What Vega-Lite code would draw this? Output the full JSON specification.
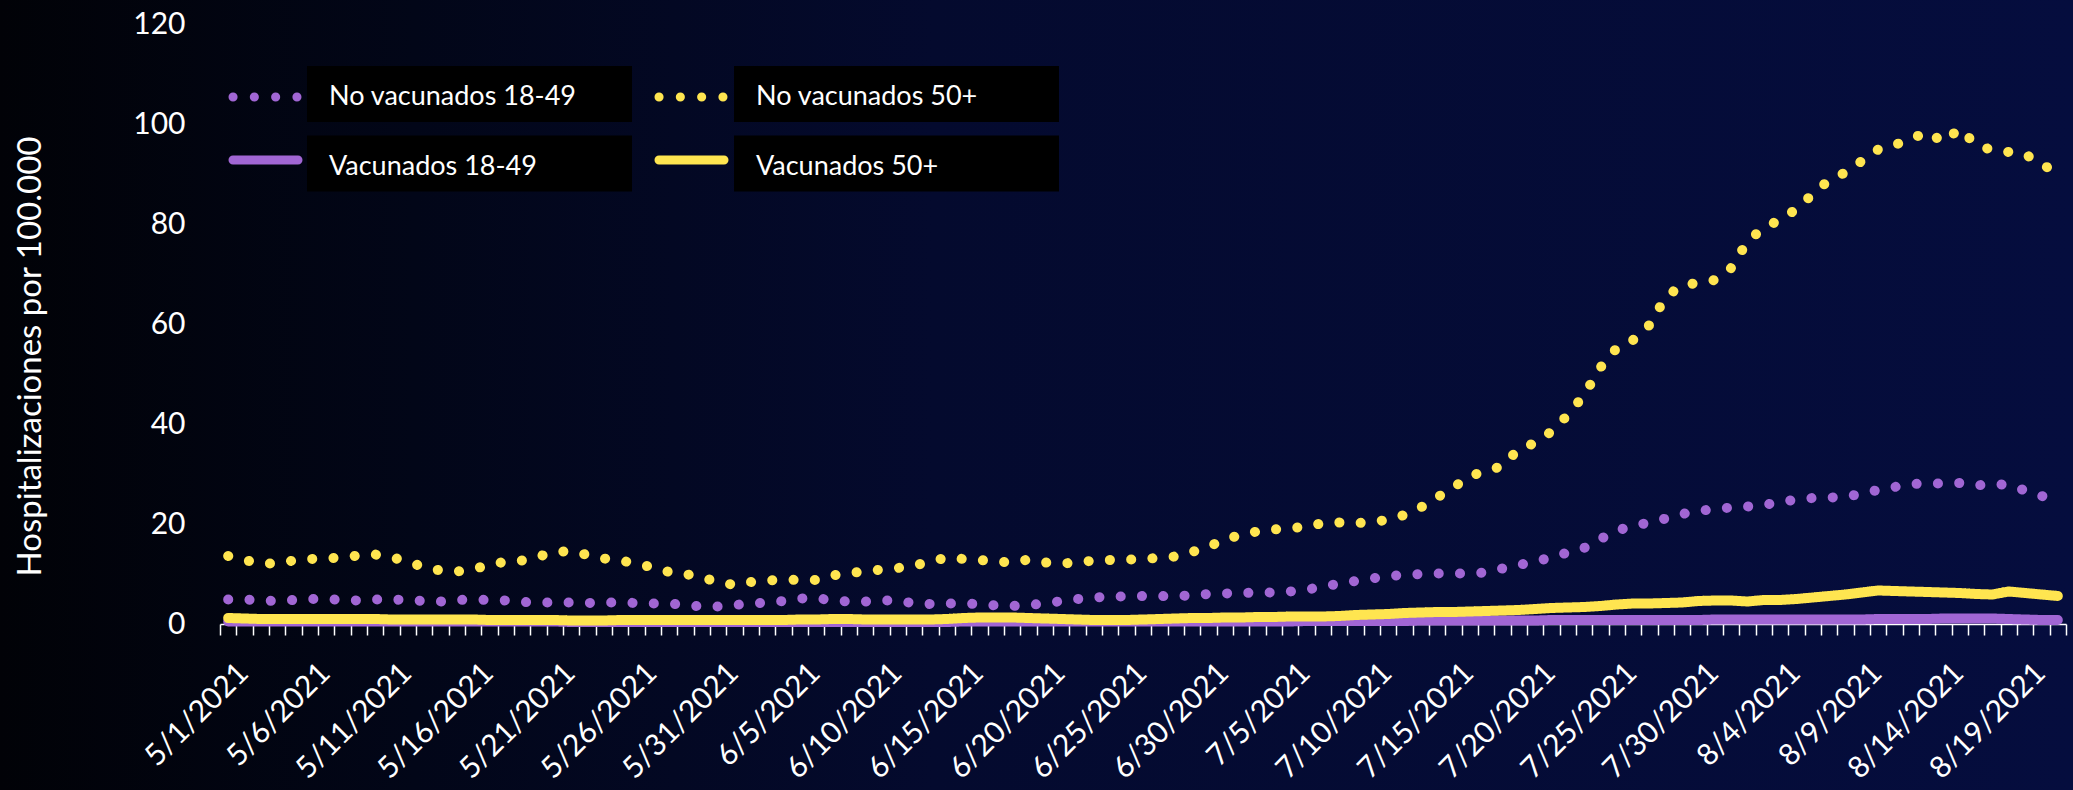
{
"$schema": "https://vega.github.io/schema/vega-lite/v6.json",
"width": 2073, "height": 790, "autosize": "none", "padding": 0,
"background": "#010207",
"config": {
 "font": "Lato",
 "view": {"stroke": null, "fill": {"gradient": "linear", "x1": 0, "y1": 0, "x2": 1, "y2": 0, "stops": [{"offset": 0, "color": "#010207"}, {"offset": 0.2, "color": "#020618"}, {"offset": 0.45, "color": "#040a2e"}, {"offset": 1, "color": "#050d3e"}]}}
},
"data": {"values": [
{"fecha":"5/1/2021","No vacunados 18-49":4.9,"No vacunados 50+":13.6,"Vacunados 18-49":0.5,"Vacunados 50+":1.2},
{"fecha":"5/2/2021","No vacunados 18-49":4.9,"No vacunados 50+":12.8,"Vacunados 18-49":0.5,"Vacunados 50+":1.1},
{"fecha":"5/3/2021","No vacunados 18-49":4.7,"No vacunados 50+":12.1,"Vacunados 18-49":0.5,"Vacunados 50+":1.0},
{"fecha":"5/4/2021","No vacunados 18-49":4.6,"No vacunados 50+":12.1,"Vacunados 18-49":0.5,"Vacunados 50+":1.0},
{"fecha":"5/5/2021","No vacunados 18-49":4.8,"No vacunados 50+":12.7,"Vacunados 18-49":0.5,"Vacunados 50+":1.0},
{"fecha":"5/6/2021","No vacunados 18-49":5.0,"No vacunados 50+":13.0,"Vacunados 18-49":0.5,"Vacunados 50+":1.0},
{"fecha":"5/7/2021","No vacunados 18-49":5.0,"No vacunados 50+":13.1,"Vacunados 18-49":0.5,"Vacunados 50+":1.0},
{"fecha":"5/8/2021","No vacunados 18-49":4.8,"No vacunados 50+":13.3,"Vacunados 18-49":0.5,"Vacunados 50+":1.0},
{"fecha":"5/9/2021","No vacunados 18-49":4.7,"No vacunados 50+":13.7,"Vacunados 18-49":0.5,"Vacunados 50+":1.0},
{"fecha":"5/10/2021","No vacunados 18-49":4.9,"No vacunados 50+":13.9,"Vacunados 18-49":0.5,"Vacunados 50+":1.0},
{"fecha":"5/11/2021","No vacunados 18-49":4.9,"No vacunados 50+":13.4,"Vacunados 18-49":0.5,"Vacunados 50+":0.9},
{"fecha":"5/12/2021","No vacunados 18-49":4.8,"No vacunados 50+":12.4,"Vacunados 18-49":0.5,"Vacunados 50+":0.9},
{"fecha":"5/13/2021","No vacunados 18-49":4.6,"No vacunados 50+":11.4,"Vacunados 18-49":0.5,"Vacunados 50+":0.9},
{"fecha":"5/14/2021","No vacunados 18-49":4.5,"No vacunados 50+":10.7,"Vacunados 18-49":0.5,"Vacunados 50+":0.9},
{"fecha":"5/15/2021","No vacunados 18-49":4.8,"No vacunados 50+":10.5,"Vacunados 18-49":0.5,"Vacunados 50+":0.9},
{"fecha":"5/16/2021","No vacunados 18-49":4.9,"No vacunados 50+":11.0,"Vacunados 18-49":0.5,"Vacunados 50+":0.9},
{"fecha":"5/17/2021","No vacunados 18-49":4.8,"No vacunados 50+":11.8,"Vacunados 18-49":0.5,"Vacunados 50+":0.8},
{"fecha":"5/18/2021","No vacunados 18-49":4.7,"No vacunados 50+":12.5,"Vacunados 18-49":0.5,"Vacunados 50+":0.8},
{"fecha":"5/19/2021","No vacunados 18-49":4.4,"No vacunados 50+":12.7,"Vacunados 18-49":0.5,"Vacunados 50+":0.8},
{"fecha":"5/20/2021","No vacunados 18-49":4.3,"No vacunados 50+":13.5,"Vacunados 18-49":0.5,"Vacunados 50+":0.8},
{"fecha":"5/21/2021","No vacunados 18-49":4.3,"No vacunados 50+":14.4,"Vacunados 18-49":0.5,"Vacunados 50+":0.8},
{"fecha":"5/22/2021","No vacunados 18-49":4.3,"No vacunados 50+":14.6,"Vacunados 18-49":0.4,"Vacunados 50+":0.7},
{"fecha":"5/23/2021","No vacunados 18-49":4.2,"No vacunados 50+":13.8,"Vacunados 18-49":0.4,"Vacunados 50+":0.7},
{"fecha":"5/24/2021","No vacunados 18-49":4.3,"No vacunados 50+":13.1,"Vacunados 18-49":0.4,"Vacunados 50+":0.7},
{"fecha":"5/25/2021","No vacunados 18-49":4.3,"No vacunados 50+":12.7,"Vacunados 18-49":0.4,"Vacunados 50+":0.8},
{"fecha":"5/26/2021","No vacunados 18-49":4.2,"No vacunados 50+":12.1,"Vacunados 18-49":0.4,"Vacunados 50+":0.8},
{"fecha":"5/27/2021","No vacunados 18-49":4.1,"No vacunados 50+":11.3,"Vacunados 18-49":0.4,"Vacunados 50+":0.8},
{"fecha":"5/28/2021","No vacunados 18-49":4.1,"No vacunados 50+":10.4,"Vacunados 18-49":0.4,"Vacunados 50+":0.8},
{"fecha":"5/29/2021","No vacunados 18-49":3.8,"No vacunados 50+":10.0,"Vacunados 18-49":0.4,"Vacunados 50+":0.8},
{"fecha":"5/30/2021","No vacunados 18-49":3.5,"No vacunados 50+":9.3,"Vacunados 18-49":0.4,"Vacunados 50+":0.8},
{"fecha":"5/31/2021","No vacunados 18-49":3.5,"No vacunados 50+":8.4,"Vacunados 18-49":0.4,"Vacunados 50+":0.8},
{"fecha":"6/1/2021","No vacunados 18-49":3.8,"No vacunados 50+":7.8,"Vacunados 18-49":0.4,"Vacunados 50+":0.8},
{"fecha":"6/2/2021","No vacunados 18-49":4.1,"No vacunados 50+":8.4,"Vacunados 18-49":0.4,"Vacunados 50+":0.8},
{"fecha":"6/3/2021","No vacunados 18-49":4.3,"No vacunados 50+":8.7,"Vacunados 18-49":0.4,"Vacunados 50+":0.8},
{"fecha":"6/4/2021","No vacunados 18-49":4.6,"No vacunados 50+":8.9,"Vacunados 18-49":0.4,"Vacunados 50+":0.8},
{"fecha":"6/5/2021","No vacunados 18-49":5.1,"No vacunados 50+":8.8,"Vacunados 18-49":0.4,"Vacunados 50+":0.9},
{"fecha":"6/6/2021","No vacunados 18-49":5.2,"No vacunados 50+":8.8,"Vacunados 18-49":0.4,"Vacunados 50+":0.9},
{"fecha":"6/7/2021","No vacunados 18-49":4.7,"No vacunados 50+":9.7,"Vacunados 18-49":0.4,"Vacunados 50+":1.0},
{"fecha":"6/8/2021","No vacunados 18-49":4.5,"No vacunados 50+":10.2,"Vacunados 18-49":0.4,"Vacunados 50+":1.0},
{"fecha":"6/9/2021","No vacunados 18-49":4.5,"No vacunados 50+":10.5,"Vacunados 18-49":0.4,"Vacunados 50+":0.9},
{"fecha":"6/10/2021","No vacunados 18-49":4.7,"No vacunados 50+":10.9,"Vacunados 18-49":0.4,"Vacunados 50+":0.9},
{"fecha":"6/11/2021","No vacunados 18-49":4.7,"No vacunados 50+":11.2,"Vacunados 18-49":0.4,"Vacunados 50+":0.9},
{"fecha":"6/12/2021","No vacunados 18-49":4.1,"No vacunados 50+":11.7,"Vacunados 18-49":0.4,"Vacunados 50+":0.9},
{"fecha":"6/13/2021","No vacunados 18-49":4.0,"No vacunados 50+":12.5,"Vacunados 18-49":0.4,"Vacunados 50+":0.9},
{"fecha":"6/14/2021","No vacunados 18-49":4.1,"No vacunados 50+":13.3,"Vacunados 18-49":0.4,"Vacunados 50+":1.0},
{"fecha":"6/15/2021","No vacunados 18-49":4.1,"No vacunados 50+":13.0,"Vacunados 18-49":0.5,"Vacunados 50+":1.2},
{"fecha":"6/16/2021","No vacunados 18-49":4.0,"No vacunados 50+":12.8,"Vacunados 18-49":0.5,"Vacunados 50+":1.3},
{"fecha":"6/17/2021","No vacunados 18-49":3.7,"No vacunados 50+":12.5,"Vacunados 18-49":0.5,"Vacunados 50+":1.3},
{"fecha":"6/18/2021","No vacunados 18-49":3.6,"No vacunados 50+":12.3,"Vacunados 18-49":0.5,"Vacunados 50+":1.3},
{"fecha":"6/19/2021","No vacunados 18-49":3.8,"No vacunados 50+":12.9,"Vacunados 18-49":0.5,"Vacunados 50+":1.2},
{"fecha":"6/20/2021","No vacunados 18-49":4.1,"No vacunados 50+":12.3,"Vacunados 18-49":0.5,"Vacunados 50+":1.1},
{"fecha":"6/21/2021","No vacunados 18-49":4.6,"No vacunados 50+":12.1,"Vacunados 18-49":0.5,"Vacunados 50+":1.0},
{"fecha":"6/22/2021","No vacunados 18-49":5.0,"No vacunados 50+":12.3,"Vacunados 18-49":0.5,"Vacunados 50+":0.9},
{"fecha":"6/23/2021","No vacunados 18-49":5.3,"No vacunados 50+":12.7,"Vacunados 18-49":0.5,"Vacunados 50+":0.8},
{"fecha":"6/24/2021","No vacunados 18-49":5.5,"No vacunados 50+":12.8,"Vacunados 18-49":0.5,"Vacunados 50+":0.8},
{"fecha":"6/25/2021","No vacunados 18-49":5.5,"No vacunados 50+":12.9,"Vacunados 18-49":0.5,"Vacunados 50+":0.8},
{"fecha":"6/26/2021","No vacunados 18-49":5.6,"No vacunados 50+":12.9,"Vacunados 18-49":0.5,"Vacunados 50+":0.9},
{"fecha":"6/27/2021","No vacunados 18-49":5.6,"No vacunados 50+":13.3,"Vacunados 18-49":0.5,"Vacunados 50+":1.0},
{"fecha":"6/28/2021","No vacunados 18-49":5.5,"No vacunados 50+":13.5,"Vacunados 18-49":0.5,"Vacunados 50+":1.1},
{"fecha":"6/29/2021","No vacunados 18-49":5.8,"No vacunados 50+":14.4,"Vacunados 18-49":0.5,"Vacunados 50+":1.2},
{"fecha":"6/30/2021","No vacunados 18-49":6.0,"No vacunados 50+":15.5,"Vacunados 18-49":0.5,"Vacunados 50+":1.2},
{"fecha":"7/1/2021","No vacunados 18-49":6.1,"No vacunados 50+":16.8,"Vacunados 18-49":0.5,"Vacunados 50+":1.3},
{"fecha":"7/2/2021","No vacunados 18-49":6.2,"No vacunados 50+":17.9,"Vacunados 18-49":0.5,"Vacunados 50+":1.3},
{"fecha":"7/3/2021","No vacunados 18-49":6.3,"No vacunados 50+":18.5,"Vacunados 18-49":0.5,"Vacunados 50+":1.4},
{"fecha":"7/4/2021","No vacunados 18-49":6.3,"No vacunados 50+":18.9,"Vacunados 18-49":0.5,"Vacunados 50+":1.4},
{"fecha":"7/5/2021","No vacunados 18-49":6.5,"No vacunados 50+":19.2,"Vacunados 18-49":0.5,"Vacunados 50+":1.5},
{"fecha":"7/6/2021","No vacunados 18-49":6.9,"No vacunados 50+":19.4,"Vacunados 18-49":0.6,"Vacunados 50+":1.5},
{"fecha":"7/7/2021","No vacunados 18-49":7.4,"No vacunados 50+":20.2,"Vacunados 18-49":0.6,"Vacunados 50+":1.5},
{"fecha":"7/8/2021","No vacunados 18-49":8.1,"No vacunados 50+":20.3,"Vacunados 18-49":0.6,"Vacunados 50+":1.6},
{"fecha":"7/9/2021","No vacunados 18-49":8.6,"No vacunados 50+":20.2,"Vacunados 18-49":0.6,"Vacunados 50+":1.8},
{"fecha":"7/10/2021","No vacunados 18-49":9.1,"No vacunados 50+":20.3,"Vacunados 18-49":0.6,"Vacunados 50+":1.9},
{"fecha":"7/11/2021","No vacunados 18-49":9.6,"No vacunados 50+":20.9,"Vacunados 18-49":0.6,"Vacunados 50+":2.0},
{"fecha":"7/12/2021","No vacunados 18-49":9.8,"No vacunados 50+":21.8,"Vacunados 18-49":0.6,"Vacunados 50+":2.2},
{"fecha":"7/13/2021","No vacunados 18-49":10.0,"No vacunados 50+":23.3,"Vacunados 18-49":0.7,"Vacunados 50+":2.3},
{"fecha":"7/14/2021","No vacunados 18-49":10.1,"No vacunados 50+":25.3,"Vacunados 18-49":0.7,"Vacunados 50+":2.4},
{"fecha":"7/15/2021","No vacunados 18-49":10.1,"No vacunados 50+":27.3,"Vacunados 18-49":0.7,"Vacunados 50+":2.4},
{"fecha":"7/16/2021","No vacunados 18-49":10.1,"No vacunados 50+":29.6,"Vacunados 18-49":0.7,"Vacunados 50+":2.5},
{"fecha":"7/17/2021","No vacunados 18-49":10.3,"No vacunados 50+":30.6,"Vacunados 18-49":0.7,"Vacunados 50+":2.6},
{"fecha":"7/18/2021","No vacunados 18-49":11.1,"No vacunados 50+":31.6,"Vacunados 18-49":0.7,"Vacunados 50+":2.7},
{"fecha":"7/19/2021","No vacunados 18-49":11.8,"No vacunados 50+":35.0,"Vacunados 18-49":0.7,"Vacunados 50+":2.8},
{"fecha":"7/20/2021","No vacunados 18-49":12.5,"No vacunados 50+":36.2,"Vacunados 18-49":0.7,"Vacunados 50+":3.0},
{"fecha":"7/21/2021","No vacunados 18-49":13.3,"No vacunados 50+":38.5,"Vacunados 18-49":0.8,"Vacunados 50+":3.2},
{"fecha":"7/22/2021","No vacunados 18-49":14.3,"No vacunados 50+":41.8,"Vacunados 18-49":0.8,"Vacunados 50+":3.3},
{"fecha":"7/23/2021","No vacunados 18-49":15.2,"No vacunados 50+":45.8,"Vacunados 18-49":0.8,"Vacunados 50+":3.4},
{"fecha":"7/24/2021","No vacunados 18-49":17.0,"No vacunados 50+":51.3,"Vacunados 18-49":0.8,"Vacunados 50+":3.6},
{"fecha":"7/25/2021","No vacunados 18-49":18.7,"No vacunados 50+":55.2,"Vacunados 18-49":0.8,"Vacunados 50+":3.9},
{"fecha":"7/26/2021","No vacunados 18-49":19.6,"No vacunados 50+":56.8,"Vacunados 18-49":0.8,"Vacunados 50+":4.1},
{"fecha":"7/27/2021","No vacunados 18-49":20.3,"No vacunados 50+":59.8,"Vacunados 18-49":0.8,"Vacunados 50+":4.1},
{"fecha":"7/28/2021","No vacunados 18-49":21.1,"No vacunados 50+":65.4,"Vacunados 18-49":0.8,"Vacunados 50+":4.2},
{"fecha":"7/29/2021","No vacunados 18-49":22.0,"No vacunados 50+":67.8,"Vacunados 18-49":0.8,"Vacunados 50+":4.3},
{"fecha":"7/30/2021","No vacunados 18-49":22.6,"No vacunados 50+":68.2,"Vacunados 18-49":0.8,"Vacunados 50+":4.6},
{"fecha":"7/31/2021","No vacunados 18-49":23.0,"No vacunados 50+":68.8,"Vacunados 18-49":0.9,"Vacunados 50+":4.7},
{"fecha":"8/1/2021","No vacunados 18-49":23.3,"No vacunados 50+":71.2,"Vacunados 18-49":0.9,"Vacunados 50+":4.7},
{"fecha":"8/2/2021","No vacunados 18-49":23.5,"No vacunados 50+":76.5,"Vacunados 18-49":0.9,"Vacunados 50+":4.5},
{"fecha":"8/3/2021","No vacunados 18-49":23.8,"No vacunados 50+":79.3,"Vacunados 18-49":0.9,"Vacunados 50+":4.8},
{"fecha":"8/4/2021","No vacunados 18-49":24.4,"No vacunados 50+":80.8,"Vacunados 18-49":0.9,"Vacunados 50+":4.8},
{"fecha":"8/5/2021","No vacunados 18-49":24.9,"No vacunados 50+":83.0,"Vacunados 18-49":0.9,"Vacunados 50+":5.0},
{"fecha":"8/6/2021","No vacunados 18-49":25.2,"No vacunados 50+":86.0,"Vacunados 18-49":0.9,"Vacunados 50+":5.3},
{"fecha":"8/7/2021","No vacunados 18-49":25.3,"No vacunados 50+":88.8,"Vacunados 18-49":0.9,"Vacunados 50+":5.6},
{"fecha":"8/8/2021","No vacunados 18-49":25.4,"No vacunados 50+":90.3,"Vacunados 18-49":0.9,"Vacunados 50+":5.9},
{"fecha":"8/9/2021","No vacunados 18-49":26.1,"No vacunados 50+":92.6,"Vacunados 18-49":0.9,"Vacunados 50+":6.3},
{"fecha":"8/10/2021","No vacunados 18-49":26.8,"No vacunados 50+":94.9,"Vacunados 18-49":1.0,"Vacunados 50+":6.7},
{"fecha":"8/11/2021","No vacunados 18-49":27.4,"No vacunados 50+":95.8,"Vacunados 18-49":1.0,"Vacunados 50+":6.6},
{"fecha":"8/12/2021","No vacunados 18-49":28.0,"No vacunados 50+":97.0,"Vacunados 18-49":1.0,"Vacunados 50+":6.5},
{"fecha":"8/13/2021","No vacunados 18-49":28.1,"No vacunados 50+":98.4,"Vacunados 18-49":1.0,"Vacunados 50+":6.4},
{"fecha":"8/14/2021","No vacunados 18-49":28.1,"No vacunados 50+":96.4,"Vacunados 18-49":1.1,"Vacunados 50+":6.3},
{"fecha":"8/15/2021","No vacunados 18-49":28.2,"No vacunados 50+":99.1,"Vacunados 18-49":1.1,"Vacunados 50+":6.2},
{"fecha":"8/16/2021","No vacunados 18-49":27.7,"No vacunados 50+":95.8,"Vacunados 18-49":1.1,"Vacunados 50+":6.0},
{"fecha":"8/17/2021","No vacunados 18-49":28.0,"No vacunados 50+":94.8,"Vacunados 18-49":1.1,"Vacunados 50+":5.9},
{"fecha":"8/18/2021","No vacunados 18-49":27.8,"No vacunados 50+":94.4,"Vacunados 18-49":1.0,"Vacunados 50+":6.5},
{"fecha":"8/19/2021","No vacunados 18-49":26.7,"No vacunados 50+":94.0,"Vacunados 18-49":0.9,"Vacunados 50+":6.2},
{"fecha":"8/20/2021","No vacunados 18-49":25.6,"No vacunados 50+":91.8,"Vacunados 18-49":0.8,"Vacunados 50+":5.9},
{"fecha":"8/21/2021","No vacunados 18-49":25.0,"No vacunados 50+":90.5,"Vacunados 18-49":0.8,"Vacunados 50+":5.6}
]},
"transform": [{"fold": ["No vacunados 18-49", "No vacunados 50+", "Vacunados 18-49", "Vacunados 50+"], "as": ["serie", "valor"]}],
"mark": {"type": "line", "strokeCap": "round", "strokeJoin": "round", "strokeWidth": 10},
"encoding": {
 "x": {"field": "fecha", "type": "ordinal", "sort": null,
  "scale": {"range": [220, 2066], "paddingInner": 0, "paddingOuter": 0},
  "axis": {"title": null, "offset": -166, "tickBand": "extent", "labelAngle": -45, "labelAlign": "right", "labelBaseline": "middle", "labelPadding": 33, "labelOffset": 15, "labelFontSize": 30, "labelColor": "white", "labelOverlap": false, "labelExpr": "indexof(domain('x'), datum.value) % 5 === 0 ? datum.label : ''", "tickColor": "white", "tickSize": 11, "tickWidth": 1.5, "domainColor": "white", "domainWidth": 1.5, "grid": false}},
 "y": {"field": "valor", "type": "quantitative",
  "scale": {"domain": [0, 120], "range": [624, 24], "nice": false},
  "axis": {"title": "Hospitalizaciones por 100.000", "offset": -220, "values": [0, 20, 40, 60, 80, 100, 120], "domain": false, "ticks": false, "grid": false, "labelFontSize": 30, "labelColor": "white", "labelPadding": 35, "titleFontSize": 33, "titleColor": "white", "titleFontWeight": "normal", "titleX": -190, "titleY": 356, "titleAngle": 270, "titleAlign": "center", "titleBaseline": "middle"}},
 "color": {"field": "serie", "type": "nominal",
  "scale": {"domain": ["No vacunados 18-49", "No vacunados 50+", "Vacunados 18-49", "Vacunados 50+"], "range": ["#a166d4", "#ffe550", "#a166d4", "#ffe550"]},
  "legend": {"title": null, "orient": "none", "direction": "horizontal", "legendX": 307, "legendY": 66, "columns": 2, "columnPadding": 102, "rowPadding": 13.5, "padding": 0, "clipHeight": 56, "gridAlign": "each", "symbolType": "stroke", "symbolSize": 4225, "symbolStrokeWidth": 9, "symbolOpacity": 0, "labelFontSize": 27, "labelColor": "white", "labelLimit": 400,
   "encode": {"entries": {"update": {"fill": {"value": "black"}, "width": {"value": 325}, "height": {"value": 56}}}, "symbols": {"update": {"opacity": {"value": 0}}}, "labels": {"update": {"x": {"value": 22}, "y": {"value": 31}, "baseline": {"value": "middle"}}}}}},
 "strokeDash": {"field": "serie", "type": "nominal",
  "scale": {"domain": ["No vacunados 18-49", "Vacunados 18-49", "No vacunados 50+", "Vacunados 50+"], "range": [[0.1, 21.2], [1, 0], [0.1, 21.2], [1, 0]]},
  "legend": {"title": null, "orient": "none", "direction": "vertical", "legendX": 228.5, "legendY": 92, "columns": 2, "columnPadding": 324, "rowPadding": 13, "padding": 0, "gridAlign": "each", "symbolType": "stroke", "symbolSize": 4225, "symbolStrokeWidth": 9, "labelFontSize": 1, "labelExpr": "''", "labelOffset": 0,
   "encode": {"symbols": {"update": {"x": {"value": 37}, "y": {"value": 5}, "strokeCap": {"value": "round"}, "stroke": {"scale": "color", "field": "value"}, "opacity": {"value": 1}}}}}}
}
}
